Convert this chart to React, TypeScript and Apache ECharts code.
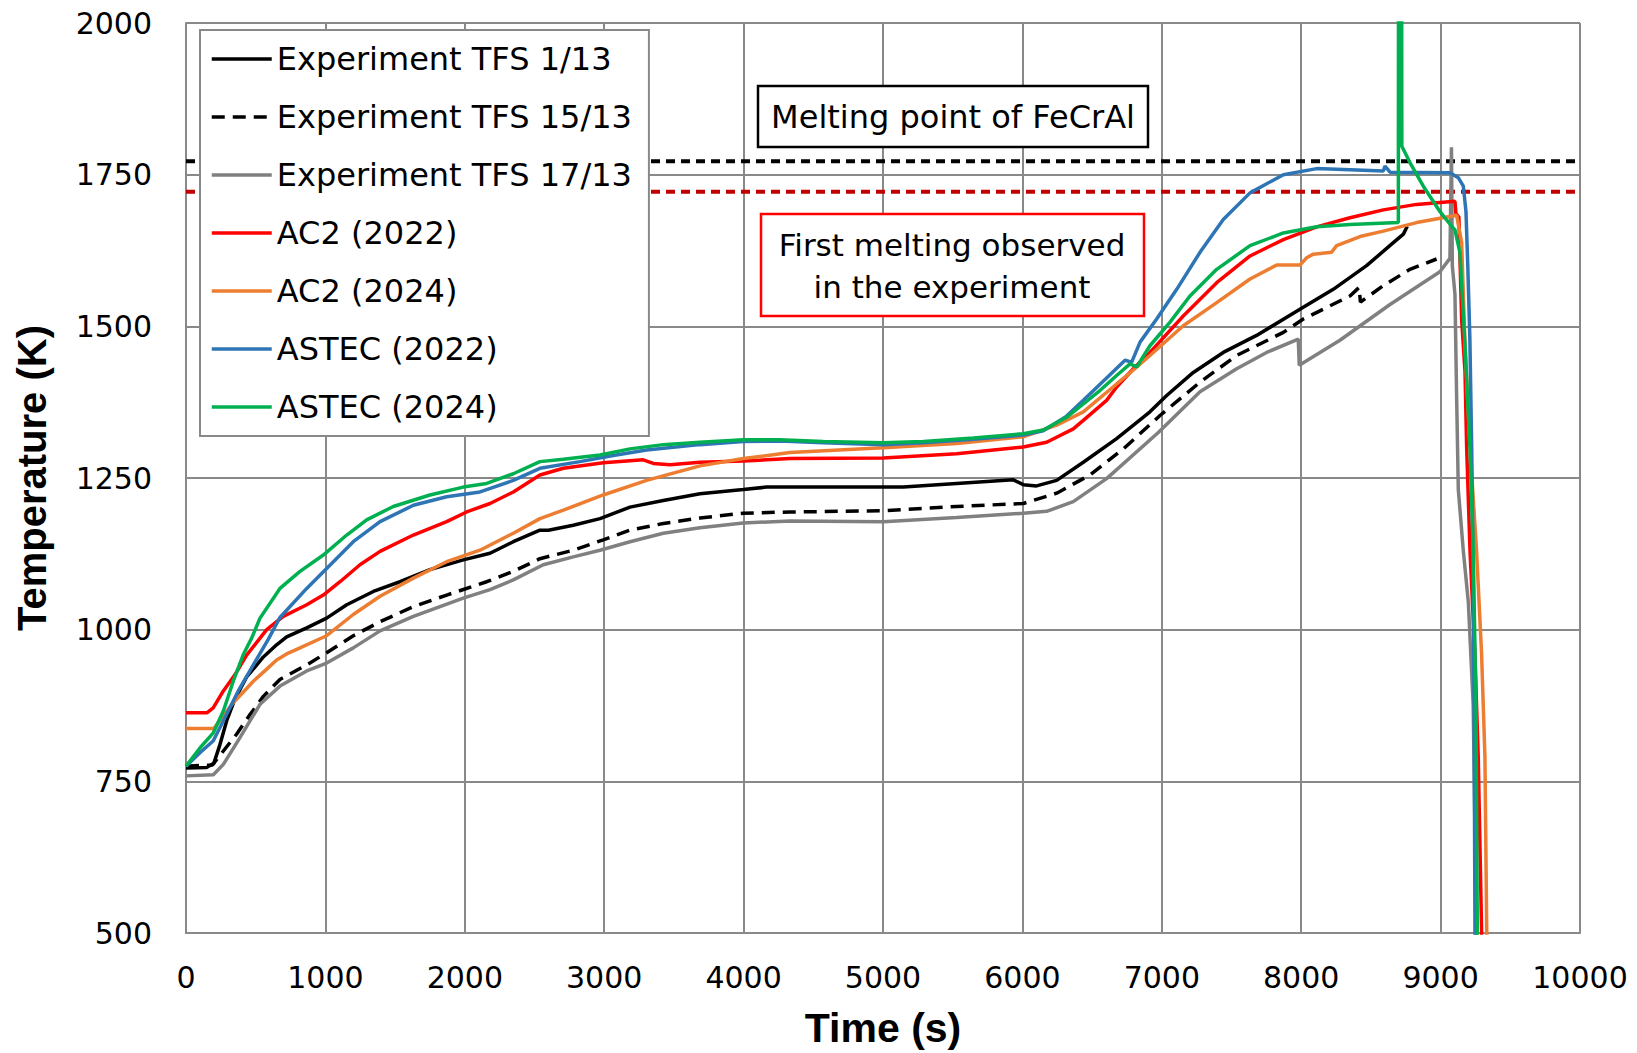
import React, { useEffect, useRef } from 'react';
import * as echarts from 'echarts';

// Time (s), Temperature (K)
const exp1_13: [number, number][] = [
  [0, 772], [150, 773], [200, 780], [240, 808], [292, 850], [350, 885], [435, 922], [555, 955], [650, 975],
  [722, 988], [866, 1003], [1009, 1019], [1153, 1041], [1344, 1063], [1535, 1079], [1750, 1099], [1989, 1115],
  [2181, 1126], [2348, 1145], [2539, 1164], [2600, 1164], [2778, 1172], [2970, 1183], [3185, 1202], [3424, 1213],
  [3687, 1224], [3998, 1231], [4165, 1235], [5146, 1235], [5528, 1241], [5935, 1247], [6006, 1239], [6102, 1237],
  [6246, 1246], [6437, 1276], [6676, 1315], [6915, 1359], [7035, 1386], [7226, 1424], [7441, 1457], [7680, 1485],
  [7991, 1528], [8230, 1561], [8469, 1600], [8661, 1638], [8733, 1652], [8761, 1665],
];

const exp15_13: [number, number][] = [
  [0, 775], [190, 777], [268, 800], [364, 828], [459, 860], [555, 890], [674, 918], [866, 942], [1009, 962],
  [1200, 990], [1392, 1013], [1631, 1038], [1870, 1057], [2157, 1079], [2348, 1096], [2539, 1117], [2778, 1131],
  [2993, 1148], [3185, 1164], [3424, 1175], [3687, 1184], [3998, 1192], [4333, 1194], [5002, 1196], [5528, 1203],
  [6006, 1208], [6246, 1225], [6485, 1255], [6724, 1298], [6987, 1353], [7274, 1408], [7537, 1452], [7872, 1490],
  [8015, 1512], [8350, 1550], [8415, 1564], [8425, 1540], [8589, 1567], [8780, 1594], [8971, 1611],
];

const exp17_13: [number, number][] = [
  [0, 759], [196, 761], [268, 778], [387, 822], [531, 877], [674, 907], [866, 932], [1009, 945], [1200, 970],
  [1392, 998], [1631, 1022], [1989, 1052], [2181, 1066], [2348, 1082], [2563, 1107], [2778, 1120], [2970, 1131],
  [3185, 1145], [3424, 1159], [3687, 1168], [3998, 1176], [4333, 1179], [5002, 1178], [5528, 1185], [6006, 1192],
  [6174, 1195], [6365, 1211], [6604, 1249], [6975, 1325], [7274, 1392], [7537, 1430], [7752, 1457], [7979, 1479],
  [7986, 1436], [8278, 1477], [8637, 1536], [8995, 1590], [9067, 1612], [9078, 1795], [9084, 1600], [9103, 1553],
  [9115, 1384], [9127, 1231], [9163, 1130], [9199, 1045], [9234, 875], [9258, 480],
];

const ac2_2022: [number, number][] = [
  [0, 863], [150, 863], [195, 871], [268, 899], [352, 926], [435, 958], [531, 986], [579, 1000], [698, 1022],
  [866, 1041], [985, 1057], [1105, 1079], [1248, 1107], [1392, 1129], [1631, 1156], [1870, 1178], [2013, 1194],
  [2181, 1208], [2348, 1227], [2539, 1255], [2707, 1266], [2993, 1275], [3280, 1280], [3352, 1274], [3472, 1272],
  [3687, 1276], [3998, 1278], [4333, 1282], [5002, 1283], [5528, 1290], [6006, 1301], [6174, 1309], [6365, 1331],
  [6437, 1345], [6604, 1378], [6676, 1400], [6796, 1430], [6915, 1457], [7154, 1517], [7394, 1572], [7633, 1616],
  [7872, 1643], [8111, 1664], [8350, 1679], [8589, 1692], [8828, 1701], [9103, 1706], [9110, 1686], [9131, 1680],
  [9151, 1511], [9175, 1426], [9187, 1299], [9211, 1130], [9246, 960], [9270, 790], [9296, 480],
];

const ac2_2024: [number, number][] = [
  [0, 837], [200, 837], [268, 858], [340, 880], [435, 903], [483, 915], [579, 935], [650, 950], [722, 960],
  [818, 970], [961, 985], [1009, 990], [1200, 1025], [1392, 1055], [1631, 1085], [1870, 1112], [2109, 1131],
  [2228, 1145], [2348, 1159], [2539, 1183], [2707, 1197], [2993, 1222], [3304, 1246], [3687, 1270], [3998, 1282],
  [4333, 1292], [5002, 1300], [5528, 1307], [6006, 1318], [6246, 1337], [6437, 1359], [6676, 1405], [6796, 1428],
  [6915, 1452], [7154, 1501], [7394, 1539], [7633, 1578], [7824, 1601], [7991, 1601], [8039, 1613], [8087, 1619],
  [8218, 1622], [8254, 1633], [8422, 1648], [8589, 1657], [8828, 1671], [9115, 1683], [9151, 1638], [9175, 1469],
  [9211, 1299], [9258, 1130], [9294, 960], [9318, 790], [9332, 480],
];

const astec_2022: [number, number][] = [
  [0, 775], [100, 797], [196, 817], [268, 850], [375, 899], [483, 942], [590, 984], [674, 1020], [866, 1068],
  [1009, 1101], [1200, 1145], [1392, 1178], [1631, 1205], [1870, 1219], [2109, 1227], [2348, 1246], [2539, 1266],
  [2826, 1277], [3065, 1287], [3304, 1296], [3687, 1305], [3998, 1310], [4261, 1311], [4572, 1308], [5002, 1305],
  [5289, 1308], [5648, 1314], [6006, 1321], [6150, 1328], [6317, 1352], [6437, 1378], [6604, 1415], [6736, 1444],
  [6784, 1441], [6844, 1474], [6963, 1512], [7107, 1561], [7274, 1622], [7441, 1676], [7633, 1720], [7872, 1750],
  [8111, 1760], [8350, 1758], [8589, 1756], [8601, 1764], [8637, 1754], [9067, 1753], [9127, 1745], [9163, 1731],
  [9182, 1689], [9195, 1600], [9210, 1480], [9223, 1300], [9234, 1100], [9240, 875], [9247, 480],
];

const astec_2024: [number, number][] = [
  [0, 775], [100, 805], [196, 830], [268, 866], [339, 915], [411, 959], [471, 986], [531, 1019], [674, 1068],
  [818, 1096], [985, 1123], [1153, 1156], [1296, 1181], [1487, 1203], [1750, 1222], [1989, 1235], [2157, 1241],
  [2348, 1257], [2539, 1277], [2707, 1281], [2970, 1288], [3185, 1298], [3424, 1305], [3687, 1309], [3998, 1313],
  [4261, 1313], [4572, 1310], [5002, 1308], [5289, 1310], [5648, 1316], [6006, 1323], [6150, 1329], [6317, 1350],
  [6437, 1372], [6560, 1395], [6676, 1419], [6772, 1438], [6820, 1433], [6915, 1468], [7059, 1507], [7202, 1550],
  [7394, 1594], [7633, 1633], [7872, 1654], [8111, 1664], [8350, 1668], [8697, 1671], [8698, 2150], [8720, 2150],
  [8722, 1797], [8780, 1770], [8876, 1731], [8996, 1689], [9079, 1665], [9103, 1659], [9139, 1621], [9175, 1469],
  [9211, 1299], [9234, 1130], [9254, 875], [9264, 480],
];

const meltingFeCrAl = 1772;
const firstMelting = 1722;

const seriesNames = [
  'Experiment TFS 1/13',
  'Experiment TFS 15/13',
  'Experiment TFS 17/13',
  'AC2 (2022)',
  'AC2 (2024)',
  'ASTEC (2022)',
  'ASTEC (2024)',
];
const seriesData = [exp1_13, exp15_13, exp17_13, ac2_2022, ac2_2024, astec_2022, astec_2024];
const seriesColors = ['#000000', '#000000', '#808080', '#FF0000', '#ED7D31', '#2E75B6', '#00B050'];

const FONT = 'DejaVu Sans';
const BOLD = 'Liberation Sans';

export default function App() {
  const ref = useRef<HTMLDivElement>(null);
  useEffect(() => {
    const chart = echarts.init(ref.current!, null, { renderer: 'svg' });
    const gridColor = '#898989';
    const series: any[] = seriesNames.map((name, i) => ({
      name,
      type: 'line',
      data: seriesData[i],
      symbol: 'none',
      showSymbol: false,
      clip: true,
      silent: true,
      z: 3 + i,
      itemStyle: { color: seriesColors[i] },
      lineStyle: {
        color: seriesColors[i],
        width: 3.5,
        type: i === 1 ? [13, 8] : 'solid',
      },
    }));
    series.push(
      {
        name: 'Melting point of FeCrAl',
        type: 'line',
        data: [[0, meltingFeCrAl], [10000, meltingFeCrAl]],
        symbol: 'none',
        silent: true,
        z: 2,
        lineStyle: { color: '#000000', width: 4, type: [9, 6] },
      },
      {
        name: 'First melting observed in the experiment',
        type: 'line',
        data: [[0, firstMelting], [10000, firstMelting]],
        symbol: 'none',
        silent: true,
        z: 2,
        lineStyle: { color: '#C00000', width: 4, type: [9, 6] },
      }
    );

    const plain = (v: number) => String(v);

    chart.setOption({
      animation: false,
      backgroundColor: '#ffffff',
      grid: { left: 186, right: 57, top: 23, bottom: 117, containLabel: false },
      xAxis: {
        type: 'value',
        min: 0,
        max: 10000,
        interval: 1000,
        name: 'Time (s)',
        nameLocation: 'middle',
        nameGap: 74,
        nameTextStyle: { fontFamily: BOLD, fontWeight: 'bold', fontSize: 41, color: '#000' },
        axisLine: { show: true, lineStyle: { color: gridColor, width: 2 } },
        axisTick: { show: false },
        axisLabel: { fontFamily: FONT, fontSize: 30, color: '#000', margin: 29, formatter: plain },
        splitLine: { show: true, lineStyle: { color: gridColor, width: 2 } },
      },
      yAxis: {
        type: 'value',
        min: 500,
        max: 2000,
        interval: 250,
        name: 'Temperature (K)',
        nameLocation: 'middle',
        nameGap: 134,
        nameTextStyle: { fontFamily: BOLD, fontWeight: 'bold', fontSize: 40, color: '#000' },
        axisLine: { show: true, lineStyle: { color: gridColor, width: 2 } },
        axisTick: { show: false },
        axisLabel: { fontFamily: FONT, fontSize: 30, color: '#000', margin: 34, formatter: plain },
        splitLine: { show: true, lineStyle: { color: gridColor, width: 2 } },
      },
      legend: {
        data: seriesNames,
        orient: 'vertical',
        left: 200,
        top: 30,
        padding: [13, 17, 13, 10],
        itemWidth: 60,
        itemHeight: 32,
        itemGap: 26,
        borderColor: gridColor,
        borderWidth: 2,
        backgroundColor: '#ffffff',
        selectedMode: false,
        textStyle: { fontFamily: FONT, fontSize: 32, color: '#000', lineHeight: 32 },
        lineStyle: { width: 3.5 },
        itemStyle: { opacity: 0 },
        z: 20,
      },
      graphic: [
        {
          type: 'rect',
          z: 100,
          shape: { x: 758, y: 86, width: 390, height: 61 },
          style: { fill: '#ffffff', stroke: '#000000', lineWidth: 2.5 },
        },
        {
          type: 'text',
          z: 101,
          x: 953,
          y: 117,
          style: {
            text: 'Melting point of FeCrAl',
            fontFamily: FONT,
            fontSize: 32,
            fill: '#000',
            align: 'center',
            verticalAlign: 'middle',
            textAlign: 'center',
            textVerticalAlign: 'middle',
          },
        },
        {
          type: 'rect',
          z: 100,
          shape: { x: 761, y: 214, width: 383, height: 102 },
          style: { fill: '#ffffff', stroke: '#FF0000', lineWidth: 2.5 },
        },
        {
          type: 'text',
          z: 101,
          x: 952,
          y: 245,
          style: {
            text: 'First melting observed',
            fontFamily: FONT,
            fontSize: 31,
            fill: '#000',
            align: 'center',
            verticalAlign: 'middle',
            textAlign: 'center',
            textVerticalAlign: 'middle',
          },
        },
        {
          type: 'text',
          z: 101,
          x: 952,
          y: 287,
          style: {
            text: 'in the experiment',
            fontFamily: FONT,
            fontSize: 31,
            fill: '#000',
            align: 'center',
            verticalAlign: 'middle',
            textAlign: 'center',
            textVerticalAlign: 'middle',
          },
        },
      ],
      series,
    });
    return () => chart.dispose();
  }, []);
  return (
    <div
      ref={ref}
      style={{ position: 'fixed', left: 0, top: 0, width: 1637, height: 1053, background: '#fff' }}
    />
  );
}
